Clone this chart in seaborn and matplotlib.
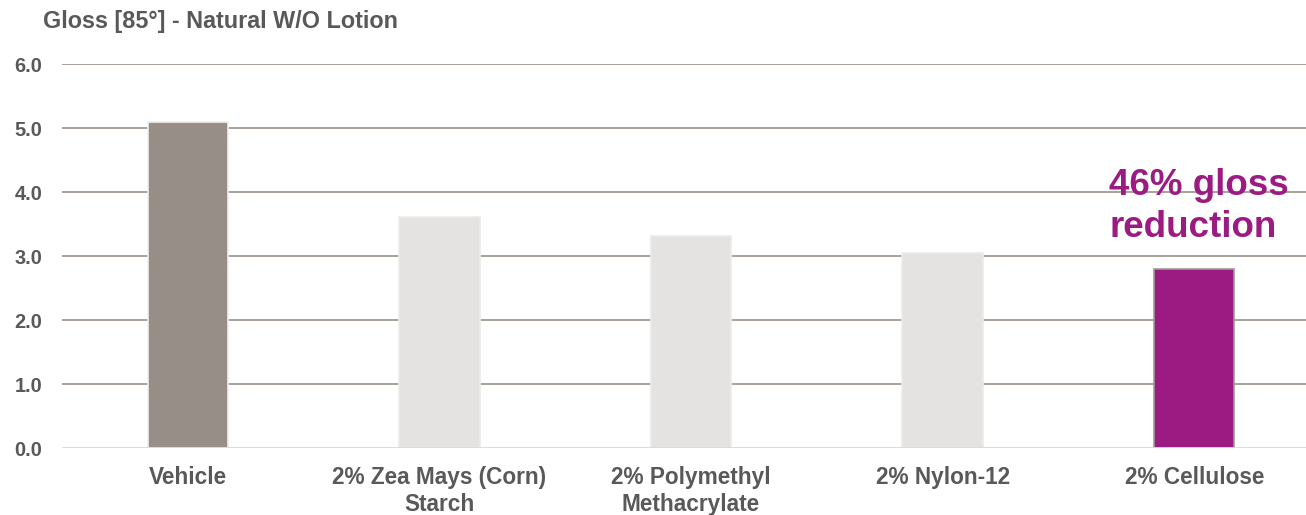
import matplotlib
matplotlib.use("Agg")
import matplotlib.pyplot as plt
import seaborn as sns
import pandas as pd

# Gloss values at 85° for each formulation
categories = ["Vehicle", "2% Zea Mays (Corn)\nStarch", "2% Polymethyl\nMethacrylate",
              "2% Nylon-12", "2% Cellulose"]
gloss = [5.10, 3.61, 3.31, 3.05, 2.80]
bar_colors = ["#968e87", "#e4e3e1", "#e4e3e1", "#e4e3e1", "#9b1b82"]
edge_colors = ["#f2f0ee", "#ecebea", "#ecebea", "#ecebea", "#a09a96"]
y_ticks = [0.0, 1.0, 2.0, 3.0, 4.0, 5.0, 6.0]

sns.set_theme(style="white")
plt.rcParams["font.family"] = ["Liberation Sans", "DejaVu Sans"]

text_color = "#595959"
df = pd.DataFrame({"category": categories, "gloss": gloss})

fig = plt.figure(figsize=(13.06, 5.15), dpi=100)
ax = fig.add_axes([62 / 1306, 66.7 / 515, 1 - 62 / 1306, 384 / 515])

sns.barplot(data=df, x="category", y="gloss", hue="category",
            palette=dict(zip(categories, bar_colors)), width=0.32,
            legend=False, ax=ax, saturation=1)
for patch, ec in zip(ax.patches, edge_colors):
    patch.set_edgecolor(ec)
    patch.set_linewidth(1.2)
    patch.set_zorder(3)

ax.set_ylim(0, 6)
ax.set_xlim(-0.5, 4.5 - 14 / 251.6)
ax.set_yticks(y_ticks)
ax.set_yticklabels([f"{v:.1f}" for v in y_ticks])
for v in y_ticks[1:]:
    ax.axhline(v, color="#a8a29c", lw=1.4, zorder=1)
ax.axhline(0, color="#d9d9d9", lw=2, zorder=4)

for s in ax.spines.values():
    s.set_visible(False)
ax.set_xlabel("")
ax.set_ylabel("")
ax.tick_params(axis="y", length=0, pad=14, labelsize=14.4, labelcolor=text_color)
ax.tick_params(axis="x", length=0, pad=13, labelsize=16.3, labelcolor=text_color)
for lab in ax.get_yticklabels():
    lab.set_fontweight("bold")
for lab in ax.get_xticklabels():
    lab.set_fontweight("bold")
    lab.set_linespacing(1.2)

ax.text(4.02, 3.78, "46% gloss\nreduction", ha="center", va="center",
        multialignment="left", fontsize=26.5, fontweight="bold",
        color="#9b1b82", linespacing=1.27, zorder=5)

fig.text(43 / 1306, 1 - 10 / 515, "Gloss [85°] - Natural W/O Lotion",
         ha="left", va="top", fontsize=16.8, fontweight="bold", color=text_color)

fig.savefig("out.png", dpi=100)
